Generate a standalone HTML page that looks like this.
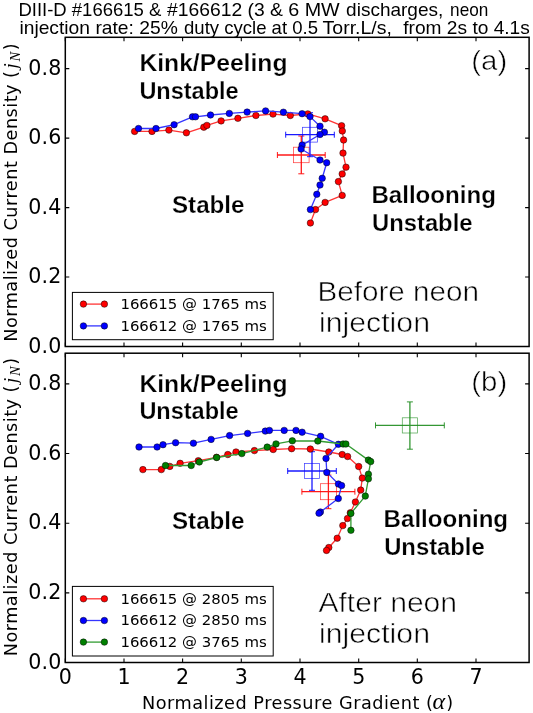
<!DOCTYPE html>
<html lang="en"><head><meta charset="utf-8"><title>Stability diagram</title>
<style>
html,body{margin:0;padding:0;background:#fff}
svg{display:block}
text{fill:#000}
.tk{font-family:"DejaVu Sans","Liberation Sans",sans-serif;font-size:20.6px}
.al{font-family:"DejaVu Sans","Liberation Sans",sans-serif;font-size:17.7px}
.lg{font-family:"DejaVu Sans","Liberation Sans",sans-serif;font-size:13.3px}
.mi{font-family:"Liberation Serif","DejaVu Serif",serif;font-style:italic}
.hd{font-family:"Liberation Sans","DejaVu Sans",sans-serif;font-size:17.9px}
.bd{font-family:"Liberation Sans","DejaVu Sans",sans-serif;font-weight:bold;font-size:24.6px;stroke:#fff;stroke-width:0.25px;paint-order:fill stroke}
.th{font-family:"Liberation Sans","DejaVu Sans",sans-serif;font-size:27.5px;stroke:#fff;stroke-width:0.55px;paint-order:fill stroke}
</style></head><body>
<svg width="533" height="713" viewBox="0 0 533 713">
<rect width="533" height="713" fill="#fff"/>
<text x="18.4" y="15.9" class="hd" textLength="142.9" lengthAdjust="spacingAndGlyphs">DIII-D #166615 &amp;</text>
<text x="167.0" y="15.9" class="hd" textLength="115.9" lengthAdjust="spacingAndGlyphs">#166612 (3 &amp;</text>
<text x="288.2" y="15.9" class="hd" textLength="51.5" lengthAdjust="spacingAndGlyphs">6 MW</text>
<text x="346.1" y="15.9" class="hd" textLength="97.2" lengthAdjust="spacingAndGlyphs">discharges,</text>
<text x="450.1" y="15.9" class="hd" textLength="38.2" lengthAdjust="spacingAndGlyphs">neon</text>
<text x="19.4" y="34.3" class="hd" textLength="158.4" lengthAdjust="spacingAndGlyphs">injection rate: 25%</text>
<text x="184.0" y="34.3" class="hd" textLength="134.0" lengthAdjust="spacingAndGlyphs">duty cycle at 0.5</text>
<text x="322.6" y="34.3" class="hd" textLength="69.3" lengthAdjust="spacingAndGlyphs">Torr.L/s,</text>
<text x="403.3" y="34.3" class="hd" textLength="126.5" lengthAdjust="spacingAndGlyphs">from 2s to 4.1s</text>
<rect x="65.3" y="37.3" width="463.8" height="309.2" fill="none" stroke="#000" stroke-width="1.5"/>
<text x="61.4" y="352.6" text-anchor="end" textLength="33.2" class="tk">0.0</text>
<text x="61.4" y="283.1" text-anchor="end" textLength="33.2" class="tk">0.2</text>
<text x="61.4" y="213.7" text-anchor="end" textLength="33.2" class="tk">0.4</text>
<text x="61.4" y="144.2" text-anchor="end" textLength="33.2" class="tk">0.6</text>
<text x="61.4" y="74.7" text-anchor="end" textLength="33.2" class="tk">0.8</text>
<path d="M65.3 37.3v4M65.3 346.5v-4M124.0 37.3v4M124.0 346.5v-4M182.6 37.3v4M182.6 346.5v-4M241.3 37.3v4M241.3 346.5v-4M300.0 37.3v4M300.0 346.5v-4M358.7 37.3v4M358.7 346.5v-4M417.3 37.3v4M417.3 346.5v-4M476.0 37.3v4M476.0 346.5v-4M65.3 346.5h4M529.1 346.5h-4M65.3 277.0h4M529.1 277.0h-4M65.3 207.6h4M529.1 207.6h-4M65.3 138.1h4M529.1 138.1h-4M65.3 68.6h4M529.1 68.6h-4" stroke="#000" stroke-width="1.1" fill="none"/>
<text transform="translate(16.8 341.8) rotate(-90)" class="al"><tspan textLength="257.4">Normalized Current Density</tspan><tspan x="263.9">(</tspan><tspan x="273.3" class="mi" font-size="18.5">j</tspan><tspan x="280.4" dy="3.5" class="mi" font-size="14.6">N</tspan><tspan x="291.6" dy="-3.5">)</tspan></text>
<g stroke="#ff0000" fill="none" stroke-width="1.3" stroke-opacity="0.9"><path d="M277.4 155.0H325.2M301.3 136.0V173.8"/><path stroke-width="1" d="M277.4 152.0v6.0M325.2 152.0v6.0M298.3 136.0h6.0M298.3 173.8h6.0"/><rect stroke-width="0.75" stroke-opacity="0.75" x="293.6" y="147.2" width="15.5" height="15.5"/></g>
<g stroke="#0000ff" fill="none" stroke-width="1.3" stroke-opacity="0.9"><path d="M285.7 134.7H334.3M310.0 112.7V156.7"/><path stroke-width="1" d="M285.7 131.7v6.0M334.3 131.7v6.0M307.0 112.7h6.0M307.0 156.7h6.0"/><rect stroke-width="0.75" stroke-opacity="0.75" x="302.6" y="127.3" width="14.8" height="14.8"/></g>
<polyline points="134.6,131.4 152.0,131.4 168.9,130.1 186.4,132.8 203.8,127.2 206.9,125.4 221.1,120.9 237.9,118.3 255.9,115.5 273.0,114.1 290.3,115.5 307.8,113.9 325.1,118.8 341.6,125.7 342.3,131.0 343.6,140.0 343.0,153.1 346.0,167.2 342.2,173.9 338.4,181.6 342.2,195.4 325.1,202.4 315.5,209.6 310.4,223.0" fill="none" stroke="#ff3535" stroke-width="1.3" stroke-linejoin="round"/>
<circle cx="134.6" cy="131.4" r="3.25" fill="#ff0000" stroke="#000" stroke-opacity="0.8" stroke-width="0.6"/>
<circle cx="152.0" cy="131.4" r="3.25" fill="#ff0000" stroke="#000" stroke-opacity="0.8" stroke-width="0.6"/>
<circle cx="168.9" cy="130.1" r="3.25" fill="#ff0000" stroke="#000" stroke-opacity="0.8" stroke-width="0.6"/>
<circle cx="186.4" cy="132.8" r="3.25" fill="#ff0000" stroke="#000" stroke-opacity="0.8" stroke-width="0.6"/>
<circle cx="203.8" cy="127.2" r="3.25" fill="#ff0000" stroke="#000" stroke-opacity="0.8" stroke-width="0.6"/>
<circle cx="206.9" cy="125.4" r="3.25" fill="#ff0000" stroke="#000" stroke-opacity="0.8" stroke-width="0.6"/>
<circle cx="221.1" cy="120.9" r="3.25" fill="#ff0000" stroke="#000" stroke-opacity="0.8" stroke-width="0.6"/>
<circle cx="237.9" cy="118.3" r="3.25" fill="#ff0000" stroke="#000" stroke-opacity="0.8" stroke-width="0.6"/>
<circle cx="255.9" cy="115.5" r="3.25" fill="#ff0000" stroke="#000" stroke-opacity="0.8" stroke-width="0.6"/>
<circle cx="273.0" cy="114.1" r="3.25" fill="#ff0000" stroke="#000" stroke-opacity="0.8" stroke-width="0.6"/>
<circle cx="290.3" cy="115.5" r="3.25" fill="#ff0000" stroke="#000" stroke-opacity="0.8" stroke-width="0.6"/>
<circle cx="307.8" cy="113.9" r="3.25" fill="#ff0000" stroke="#000" stroke-opacity="0.8" stroke-width="0.6"/>
<circle cx="325.1" cy="118.8" r="3.25" fill="#ff0000" stroke="#000" stroke-opacity="0.8" stroke-width="0.6"/>
<circle cx="341.6" cy="125.7" r="3.25" fill="#ff0000" stroke="#000" stroke-opacity="0.8" stroke-width="0.6"/>
<circle cx="342.3" cy="131.0" r="3.25" fill="#ff0000" stroke="#000" stroke-opacity="0.8" stroke-width="0.6"/>
<circle cx="343.6" cy="140.0" r="3.25" fill="#ff0000" stroke="#000" stroke-opacity="0.8" stroke-width="0.6"/>
<circle cx="343.0" cy="153.1" r="3.25" fill="#ff0000" stroke="#000" stroke-opacity="0.8" stroke-width="0.6"/>
<circle cx="346.0" cy="167.2" r="3.25" fill="#ff0000" stroke="#000" stroke-opacity="0.8" stroke-width="0.6"/>
<circle cx="342.2" cy="173.9" r="3.25" fill="#ff0000" stroke="#000" stroke-opacity="0.8" stroke-width="0.6"/>
<circle cx="338.4" cy="181.6" r="3.25" fill="#ff0000" stroke="#000" stroke-opacity="0.8" stroke-width="0.6"/>
<circle cx="342.2" cy="195.4" r="3.25" fill="#ff0000" stroke="#000" stroke-opacity="0.8" stroke-width="0.6"/>
<circle cx="325.1" cy="202.4" r="3.25" fill="#ff0000" stroke="#000" stroke-opacity="0.8" stroke-width="0.6"/>
<circle cx="315.5" cy="209.6" r="3.25" fill="#ff0000" stroke="#000" stroke-opacity="0.8" stroke-width="0.6"/>
<circle cx="310.4" cy="223.0" r="3.25" fill="#ff0000" stroke="#000" stroke-opacity="0.8" stroke-width="0.6"/>
<polyline points="138.5,128.5 156.0,128.5 174.1,124.7 192.5,116.8 195.5,116.8 210.5,115.0 229.3,113.4 247.1,112.1 265.6,110.9 283.4,112.2 302.1,113.7 310.0,116.6 320.0,126.2 324.4,132.2 320.0,134.5 302.1,145.1 301.1,149.0 320.0,160.0 326.7,162.7 322.2,178.3 320.0,185.0 316.8,194.3 310.4,209.6" fill="none" stroke="#3535ff" stroke-width="1.3" stroke-linejoin="round"/>
<circle cx="138.5" cy="128.5" r="3.25" fill="#0000ff" stroke="#000" stroke-opacity="0.8" stroke-width="0.6"/>
<circle cx="156.0" cy="128.5" r="3.25" fill="#0000ff" stroke="#000" stroke-opacity="0.8" stroke-width="0.6"/>
<circle cx="174.1" cy="124.7" r="3.25" fill="#0000ff" stroke="#000" stroke-opacity="0.8" stroke-width="0.6"/>
<circle cx="192.5" cy="116.8" r="3.25" fill="#0000ff" stroke="#000" stroke-opacity="0.8" stroke-width="0.6"/>
<circle cx="195.5" cy="116.8" r="3.25" fill="#0000ff" stroke="#000" stroke-opacity="0.8" stroke-width="0.6"/>
<circle cx="210.5" cy="115.0" r="3.25" fill="#0000ff" stroke="#000" stroke-opacity="0.8" stroke-width="0.6"/>
<circle cx="229.3" cy="113.4" r="3.25" fill="#0000ff" stroke="#000" stroke-opacity="0.8" stroke-width="0.6"/>
<circle cx="247.1" cy="112.1" r="3.25" fill="#0000ff" stroke="#000" stroke-opacity="0.8" stroke-width="0.6"/>
<circle cx="265.6" cy="110.9" r="3.25" fill="#0000ff" stroke="#000" stroke-opacity="0.8" stroke-width="0.6"/>
<circle cx="283.4" cy="112.2" r="3.25" fill="#0000ff" stroke="#000" stroke-opacity="0.8" stroke-width="0.6"/>
<circle cx="302.1" cy="113.7" r="3.25" fill="#0000ff" stroke="#000" stroke-opacity="0.8" stroke-width="0.6"/>
<circle cx="310.0" cy="116.6" r="3.25" fill="#0000ff" stroke="#000" stroke-opacity="0.8" stroke-width="0.6"/>
<circle cx="320.0" cy="126.2" r="3.25" fill="#0000ff" stroke="#000" stroke-opacity="0.8" stroke-width="0.6"/>
<circle cx="324.4" cy="132.2" r="3.25" fill="#0000ff" stroke="#000" stroke-opacity="0.8" stroke-width="0.6"/>
<circle cx="320.0" cy="134.5" r="3.25" fill="#0000ff" stroke="#000" stroke-opacity="0.8" stroke-width="0.6"/>
<circle cx="302.1" cy="145.1" r="3.25" fill="#0000ff" stroke="#000" stroke-opacity="0.8" stroke-width="0.6"/>
<circle cx="301.1" cy="149.0" r="3.25" fill="#0000ff" stroke="#000" stroke-opacity="0.8" stroke-width="0.6"/>
<circle cx="320.0" cy="160.0" r="3.25" fill="#0000ff" stroke="#000" stroke-opacity="0.8" stroke-width="0.6"/>
<circle cx="326.7" cy="162.7" r="3.25" fill="#0000ff" stroke="#000" stroke-opacity="0.8" stroke-width="0.6"/>
<circle cx="322.2" cy="178.3" r="3.25" fill="#0000ff" stroke="#000" stroke-opacity="0.8" stroke-width="0.6"/>
<circle cx="320.0" cy="185.0" r="3.25" fill="#0000ff" stroke="#000" stroke-opacity="0.8" stroke-width="0.6"/>
<circle cx="316.8" cy="194.3" r="3.25" fill="#0000ff" stroke="#000" stroke-opacity="0.8" stroke-width="0.6"/>
<circle cx="310.4" cy="209.6" r="3.25" fill="#0000ff" stroke="#000" stroke-opacity="0.8" stroke-width="0.6"/>
<rect x="72.4" y="292.4" width="200.8" height="47.3" fill="#fff" stroke="#000" stroke-width="1"/>
<path d="M83.4 304.1H104.4" stroke="#ff3535" stroke-width="1.3"/>
<circle cx="83.4" cy="304.1" r="3.25" fill="#ff0000" stroke="#000" stroke-opacity="0.8" stroke-width="0.6"/>
<circle cx="104.4" cy="304.1" r="3.25" fill="#ff0000" stroke="#000" stroke-opacity="0.8" stroke-width="0.6"/>
<text x="120.4" y="309.0" textLength="146.3" lengthAdjust="spacingAndGlyphs" class="lg">166615 @ 1765 ms</text>
<path d="M83.4 325.9H104.4" stroke="#3535ff" stroke-width="1.3"/>
<circle cx="83.4" cy="325.9" r="3.25" fill="#0000ff" stroke="#000" stroke-opacity="0.8" stroke-width="0.6"/>
<circle cx="104.4" cy="325.9" r="3.25" fill="#0000ff" stroke="#000" stroke-opacity="0.8" stroke-width="0.6"/>
<text x="120.4" y="330.8" textLength="146.3" lengthAdjust="spacingAndGlyphs" class="lg">166612 @ 1765 ms</text>
<rect x="65.3" y="353.2" width="463.8" height="309.3" fill="none" stroke="#000" stroke-width="1.5"/>
<text x="61.4" y="668.6" text-anchor="end" textLength="33.2" class="tk">0.0</text>
<text x="61.4" y="599.0" text-anchor="end" textLength="33.2" class="tk">0.2</text>
<text x="61.4" y="529.3" text-anchor="end" textLength="33.2" class="tk">0.4</text>
<text x="61.4" y="459.6" text-anchor="end" textLength="33.2" class="tk">0.6</text>
<text x="61.4" y="390.0" text-anchor="end" textLength="33.2" class="tk">0.8</text>
<path d="M65.3 353.2v4M65.3 662.5v-4M124.0 353.2v4M124.0 662.5v-4M182.6 353.2v4M182.6 662.5v-4M241.3 353.2v4M241.3 662.5v-4M300.0 353.2v4M300.0 662.5v-4M358.7 353.2v4M358.7 662.5v-4M417.3 353.2v4M417.3 662.5v-4M476.0 353.2v4M476.0 662.5v-4M65.3 662.5h4M529.1 662.5h-4M65.3 592.9h4M529.1 592.9h-4M65.3 523.2h4M529.1 523.2h-4M65.3 453.5h4M529.1 453.5h-4M65.3 383.9h4M529.1 383.9h-4" stroke="#000" stroke-width="1.1" fill="none"/>
<text transform="translate(16.8 656.3) rotate(-90)" class="al"><tspan textLength="257.4">Normalized Current Density</tspan><tspan x="263.9">(</tspan><tspan x="273.3" class="mi" font-size="18.5">j</tspan><tspan x="280.4" dy="3.5" class="mi" font-size="14.6">N</tspan><tspan x="291.6" dy="-3.5">)</tspan></text>
<g stroke="#1e8c1e" fill="none" stroke-width="1.3" stroke-opacity="0.9"><path d="M375.5 425.4H444.3M409.9 401.9V449.2"/><path stroke-width="1" d="M375.5 422.4v6.0M444.3 422.4v6.0M406.9 401.9h6.0M406.9 449.2h6.0"/><rect stroke-width="0.75" stroke-opacity="0.75" x="402.3" y="417.8" width="15.2" height="15.2"/></g>
<g stroke="#ff0000" fill="none" stroke-width="1.3" stroke-opacity="0.9"><path d="M301.9 491.7H354.9M328.4 475.1V508.7"/><path stroke-width="1" d="M301.9 488.7v6.0M354.9 488.7v6.0M325.4 475.1h6.0M325.4 508.7h6.0"/><rect stroke-width="0.75" stroke-opacity="0.75" x="320.4" y="483.7" width="16.0" height="16.0"/></g>
<g stroke="#0000ff" fill="none" stroke-width="1.3" stroke-opacity="0.9"><path d="M287.7 471.0H336.3M312.0 451.7V490.3"/><path stroke-width="1" d="M287.7 468.0v6.0M336.3 468.0v6.0M309.0 451.7h6.0M309.0 490.3h6.0"/><rect stroke-width="0.75" stroke-opacity="0.75" x="304.5" y="463.5" width="15.0" height="15.0"/></g>
<polyline points="142.9,469.6 161.3,469.6 169.8,466.4 180.1,463.3 198.3,460.7 216.5,457.3 227.8,454.5 236.0,452.0 254.4,450.6 273.2,449.5 291.6,448.7 310.3,449.0 328.8,452.0 342.2,454.5 347.6,456.5 358.7,466.5 362.3,478.1 360.7,490.1 355.4,502.0 350.3,512.8 347.5,518.5 342.8,525.6 337.2,538.2 328.8,547.5 326.5,550.4" fill="none" stroke="#ff3535" stroke-width="1.3" stroke-linejoin="round"/>
<circle cx="142.9" cy="469.6" r="3.25" fill="#ff0000" stroke="#000" stroke-opacity="0.8" stroke-width="0.6"/>
<circle cx="161.3" cy="469.6" r="3.25" fill="#ff0000" stroke="#000" stroke-opacity="0.8" stroke-width="0.6"/>
<circle cx="169.8" cy="466.4" r="3.25" fill="#ff0000" stroke="#000" stroke-opacity="0.8" stroke-width="0.6"/>
<circle cx="180.1" cy="463.3" r="3.25" fill="#ff0000" stroke="#000" stroke-opacity="0.8" stroke-width="0.6"/>
<circle cx="198.3" cy="460.7" r="3.25" fill="#ff0000" stroke="#000" stroke-opacity="0.8" stroke-width="0.6"/>
<circle cx="216.5" cy="457.3" r="3.25" fill="#ff0000" stroke="#000" stroke-opacity="0.8" stroke-width="0.6"/>
<circle cx="227.8" cy="454.5" r="3.25" fill="#ff0000" stroke="#000" stroke-opacity="0.8" stroke-width="0.6"/>
<circle cx="236.0" cy="452.0" r="3.25" fill="#ff0000" stroke="#000" stroke-opacity="0.8" stroke-width="0.6"/>
<circle cx="254.4" cy="450.6" r="3.25" fill="#ff0000" stroke="#000" stroke-opacity="0.8" stroke-width="0.6"/>
<circle cx="273.2" cy="449.5" r="3.25" fill="#ff0000" stroke="#000" stroke-opacity="0.8" stroke-width="0.6"/>
<circle cx="291.6" cy="448.7" r="3.25" fill="#ff0000" stroke="#000" stroke-opacity="0.8" stroke-width="0.6"/>
<circle cx="310.3" cy="449.0" r="3.25" fill="#ff0000" stroke="#000" stroke-opacity="0.8" stroke-width="0.6"/>
<circle cx="328.8" cy="452.0" r="3.25" fill="#ff0000" stroke="#000" stroke-opacity="0.8" stroke-width="0.6"/>
<circle cx="342.2" cy="454.5" r="3.25" fill="#ff0000" stroke="#000" stroke-opacity="0.8" stroke-width="0.6"/>
<circle cx="347.6" cy="456.5" r="3.25" fill="#ff0000" stroke="#000" stroke-opacity="0.8" stroke-width="0.6"/>
<circle cx="358.7" cy="466.5" r="3.25" fill="#ff0000" stroke="#000" stroke-opacity="0.8" stroke-width="0.6"/>
<circle cx="362.3" cy="478.1" r="3.25" fill="#ff0000" stroke="#000" stroke-opacity="0.8" stroke-width="0.6"/>
<circle cx="360.7" cy="490.1" r="3.25" fill="#ff0000" stroke="#000" stroke-opacity="0.8" stroke-width="0.6"/>
<circle cx="355.4" cy="502.0" r="3.25" fill="#ff0000" stroke="#000" stroke-opacity="0.8" stroke-width="0.6"/>
<circle cx="350.3" cy="512.8" r="3.25" fill="#ff0000" stroke="#000" stroke-opacity="0.8" stroke-width="0.6"/>
<circle cx="347.5" cy="518.5" r="3.25" fill="#ff0000" stroke="#000" stroke-opacity="0.8" stroke-width="0.6"/>
<circle cx="342.8" cy="525.6" r="3.25" fill="#ff0000" stroke="#000" stroke-opacity="0.8" stroke-width="0.6"/>
<circle cx="337.2" cy="538.2" r="3.25" fill="#ff0000" stroke="#000" stroke-opacity="0.8" stroke-width="0.6"/>
<circle cx="328.8" cy="547.5" r="3.25" fill="#ff0000" stroke="#000" stroke-opacity="0.8" stroke-width="0.6"/>
<circle cx="326.5" cy="550.4" r="3.25" fill="#ff0000" stroke="#000" stroke-opacity="0.8" stroke-width="0.6"/>
<polyline points="139.0,447.0 157.1,447.0 163.0,444.7 175.6,442.7 193.4,443.2 211.1,439.4 229.6,435.6 247.6,433.4 265.3,431.1 269.4,430.4 284.2,430.4 296.0,430.4 302.1,432.2 320.6,436.3 338.4,444.3 326.0,458.4 326.8,472.4 338.4,484.0 341.6,485.6 338.3,498.5 320.4,512.0 319.0,513.2" fill="none" stroke="#3535ff" stroke-width="1.3" stroke-linejoin="round"/>
<circle cx="139.0" cy="447.0" r="3.25" fill="#0000ff" stroke="#000" stroke-opacity="0.8" stroke-width="0.6"/>
<circle cx="157.1" cy="447.0" r="3.25" fill="#0000ff" stroke="#000" stroke-opacity="0.8" stroke-width="0.6"/>
<circle cx="163.0" cy="444.7" r="3.25" fill="#0000ff" stroke="#000" stroke-opacity="0.8" stroke-width="0.6"/>
<circle cx="175.6" cy="442.7" r="3.25" fill="#0000ff" stroke="#000" stroke-opacity="0.8" stroke-width="0.6"/>
<circle cx="193.4" cy="443.2" r="3.25" fill="#0000ff" stroke="#000" stroke-opacity="0.8" stroke-width="0.6"/>
<circle cx="211.1" cy="439.4" r="3.25" fill="#0000ff" stroke="#000" stroke-opacity="0.8" stroke-width="0.6"/>
<circle cx="229.6" cy="435.6" r="3.25" fill="#0000ff" stroke="#000" stroke-opacity="0.8" stroke-width="0.6"/>
<circle cx="247.6" cy="433.4" r="3.25" fill="#0000ff" stroke="#000" stroke-opacity="0.8" stroke-width="0.6"/>
<circle cx="265.3" cy="431.1" r="3.25" fill="#0000ff" stroke="#000" stroke-opacity="0.8" stroke-width="0.6"/>
<circle cx="269.4" cy="430.4" r="3.25" fill="#0000ff" stroke="#000" stroke-opacity="0.8" stroke-width="0.6"/>
<circle cx="284.2" cy="430.4" r="3.25" fill="#0000ff" stroke="#000" stroke-opacity="0.8" stroke-width="0.6"/>
<circle cx="296.0" cy="430.4" r="3.25" fill="#0000ff" stroke="#000" stroke-opacity="0.8" stroke-width="0.6"/>
<circle cx="302.1" cy="432.2" r="3.25" fill="#0000ff" stroke="#000" stroke-opacity="0.8" stroke-width="0.6"/>
<circle cx="320.6" cy="436.3" r="3.25" fill="#0000ff" stroke="#000" stroke-opacity="0.8" stroke-width="0.6"/>
<circle cx="338.4" cy="444.3" r="3.25" fill="#0000ff" stroke="#000" stroke-opacity="0.8" stroke-width="0.6"/>
<circle cx="326.0" cy="458.4" r="3.25" fill="#0000ff" stroke="#000" stroke-opacity="0.8" stroke-width="0.6"/>
<circle cx="326.8" cy="472.4" r="3.25" fill="#0000ff" stroke="#000" stroke-opacity="0.8" stroke-width="0.6"/>
<circle cx="338.4" cy="484.0" r="3.25" fill="#0000ff" stroke="#000" stroke-opacity="0.8" stroke-width="0.6"/>
<circle cx="341.6" cy="485.6" r="3.25" fill="#0000ff" stroke="#000" stroke-opacity="0.8" stroke-width="0.6"/>
<circle cx="338.3" cy="498.5" r="3.25" fill="#0000ff" stroke="#000" stroke-opacity="0.8" stroke-width="0.6"/>
<circle cx="320.4" cy="512.0" r="3.25" fill="#0000ff" stroke="#000" stroke-opacity="0.8" stroke-width="0.6"/>
<circle cx="319.0" cy="513.2" r="3.25" fill="#0000ff" stroke="#000" stroke-opacity="0.8" stroke-width="0.6"/>
<polyline points="165.5,465.5 191.2,465.5 199.3,462.0 216.7,457.5 241.8,453.6 267.2,447.1 276.0,443.9 292.3,440.8 317.8,441.0 343.1,444.0 345.9,444.0 368.4,460.1 370.7,461.6 368.4,474.2 368.4,478.8 365.3,496.1 350.9,513.4 350.9,530.3" fill="none" stroke="#329c32" stroke-width="1.3" stroke-linejoin="round"/>
<circle cx="165.5" cy="465.5" r="3.25" fill="#008000" stroke="#000" stroke-opacity="0.8" stroke-width="0.6"/>
<circle cx="191.2" cy="465.5" r="3.25" fill="#008000" stroke="#000" stroke-opacity="0.8" stroke-width="0.6"/>
<circle cx="199.3" cy="462.0" r="3.25" fill="#008000" stroke="#000" stroke-opacity="0.8" stroke-width="0.6"/>
<circle cx="216.7" cy="457.5" r="3.25" fill="#008000" stroke="#000" stroke-opacity="0.8" stroke-width="0.6"/>
<circle cx="241.8" cy="453.6" r="3.25" fill="#008000" stroke="#000" stroke-opacity="0.8" stroke-width="0.6"/>
<circle cx="267.2" cy="447.1" r="3.25" fill="#008000" stroke="#000" stroke-opacity="0.8" stroke-width="0.6"/>
<circle cx="276.0" cy="443.9" r="3.25" fill="#008000" stroke="#000" stroke-opacity="0.8" stroke-width="0.6"/>
<circle cx="292.3" cy="440.8" r="3.25" fill="#008000" stroke="#000" stroke-opacity="0.8" stroke-width="0.6"/>
<circle cx="317.8" cy="441.0" r="3.25" fill="#008000" stroke="#000" stroke-opacity="0.8" stroke-width="0.6"/>
<circle cx="343.1" cy="444.0" r="3.25" fill="#008000" stroke="#000" stroke-opacity="0.8" stroke-width="0.6"/>
<circle cx="345.9" cy="444.0" r="3.25" fill="#008000" stroke="#000" stroke-opacity="0.8" stroke-width="0.6"/>
<circle cx="368.4" cy="460.1" r="3.25" fill="#008000" stroke="#000" stroke-opacity="0.8" stroke-width="0.6"/>
<circle cx="370.7" cy="461.6" r="3.25" fill="#008000" stroke="#000" stroke-opacity="0.8" stroke-width="0.6"/>
<circle cx="368.4" cy="474.2" r="3.25" fill="#008000" stroke="#000" stroke-opacity="0.8" stroke-width="0.6"/>
<circle cx="368.4" cy="478.8" r="3.25" fill="#008000" stroke="#000" stroke-opacity="0.8" stroke-width="0.6"/>
<circle cx="365.3" cy="496.1" r="3.25" fill="#008000" stroke="#000" stroke-opacity="0.8" stroke-width="0.6"/>
<circle cx="350.9" cy="513.4" r="3.25" fill="#008000" stroke="#000" stroke-opacity="0.8" stroke-width="0.6"/>
<circle cx="350.9" cy="530.3" r="3.25" fill="#008000" stroke="#000" stroke-opacity="0.8" stroke-width="0.6"/>
<rect x="72.4" y="586.4" width="200.8" height="69.6" fill="#fff" stroke="#000" stroke-width="1"/>
<path d="M83.4 598.8H104.4" stroke="#ff3535" stroke-width="1.3"/>
<circle cx="83.4" cy="598.8" r="3.25" fill="#ff0000" stroke="#000" stroke-opacity="0.8" stroke-width="0.6"/>
<circle cx="104.4" cy="598.8" r="3.25" fill="#ff0000" stroke="#000" stroke-opacity="0.8" stroke-width="0.6"/>
<text x="120.4" y="603.7" textLength="146.3" lengthAdjust="spacingAndGlyphs" class="lg">166615 @ 2805 ms</text>
<path d="M83.4 620.5H104.4" stroke="#3535ff" stroke-width="1.3"/>
<circle cx="83.4" cy="620.5" r="3.25" fill="#0000ff" stroke="#000" stroke-opacity="0.8" stroke-width="0.6"/>
<circle cx="104.4" cy="620.5" r="3.25" fill="#0000ff" stroke="#000" stroke-opacity="0.8" stroke-width="0.6"/>
<text x="120.4" y="625.4" textLength="146.3" lengthAdjust="spacingAndGlyphs" class="lg">166612 @ 2850 ms</text>
<path d="M83.4 642.1H104.4" stroke="#329c32" stroke-width="1.3"/>
<circle cx="83.4" cy="642.1" r="3.25" fill="#008000" stroke="#000" stroke-opacity="0.8" stroke-width="0.6"/>
<circle cx="104.4" cy="642.1" r="3.25" fill="#008000" stroke="#000" stroke-opacity="0.8" stroke-width="0.6"/>
<text x="120.4" y="647.0" textLength="146.3" lengthAdjust="spacingAndGlyphs" class="lg">166612 @ 3765 ms</text>
<text x="65.3" y="683.9" text-anchor="middle" class="tk">0</text>
<text x="124.0" y="683.9" text-anchor="middle" class="tk">1</text>
<text x="182.6" y="683.9" text-anchor="middle" class="tk">2</text>
<text x="241.3" y="683.9" text-anchor="middle" class="tk">3</text>
<text x="300.0" y="683.9" text-anchor="middle" class="tk">4</text>
<text x="358.7" y="683.9" text-anchor="middle" class="tk">5</text>
<text x="417.3" y="683.9" text-anchor="middle" class="tk">6</text>
<text x="476.0" y="683.9" text-anchor="middle" class="tk">7</text>
<text y="708.6" class="al"><tspan x="141.9" textLength="277.5">Normalized Pressure Gradient</tspan><tspan x="425.9">(</tspan><tspan x="432.6" class="mi" font-size="24">α</tspan><tspan x="446.2">)</tspan></text>
<text x="139.4" y="70.6" class="bd" textLength="148.1" lengthAdjust="spacingAndGlyphs">Kink/Peeling</text>
<text x="139.4" y="98.9" class="bd" textLength="99.2" lengthAdjust="spacingAndGlyphs">Unstable</text>
<text x="172.0" y="213.1" class="bd" textLength="72.5" lengthAdjust="spacingAndGlyphs">Stable</text>
<text x="371.4" y="202.5" class="bd" textLength="124.5" lengthAdjust="spacingAndGlyphs">Ballooning</text>
<text x="372.0" y="230.6" class="bd" textLength="100.5" lengthAdjust="spacingAndGlyphs">Unstable</text>
<text x="471.3" y="70.4" class="th" textLength="35.9" lengthAdjust="spacingAndGlyphs">(a)</text>
<text x="317.5" y="300.6" class="th" textLength="161.5" lengthAdjust="spacingAndGlyphs">Before neon</text>
<text x="319.0" y="331.8" class="th" textLength="111" lengthAdjust="spacingAndGlyphs">injection</text>
<text x="139.4" y="391.7" class="bd" textLength="148.1" lengthAdjust="spacingAndGlyphs">Kink/Peeling</text>
<text x="139.4" y="418.8" class="bd" textLength="99.2" lengthAdjust="spacingAndGlyphs">Unstable</text>
<text x="172.0" y="528.9" class="bd" textLength="72.5" lengthAdjust="spacingAndGlyphs">Stable</text>
<text x="383.6" y="526.7" class="bd" textLength="124.5" lengthAdjust="spacingAndGlyphs">Ballooning</text>
<text x="384.2" y="554.9" class="bd" textLength="100.5" lengthAdjust="spacingAndGlyphs">Unstable</text>
<text x="471.3" y="390.9" class="th" textLength="35.9" lengthAdjust="spacingAndGlyphs">(b)</text>
<text x="318.5" y="611.9" class="th" textLength="138.5" lengthAdjust="spacingAndGlyphs">After neon</text>
<text x="319.0" y="642.7" class="th" textLength="111" lengthAdjust="spacingAndGlyphs">injection</text>
</svg>
</body></html>
